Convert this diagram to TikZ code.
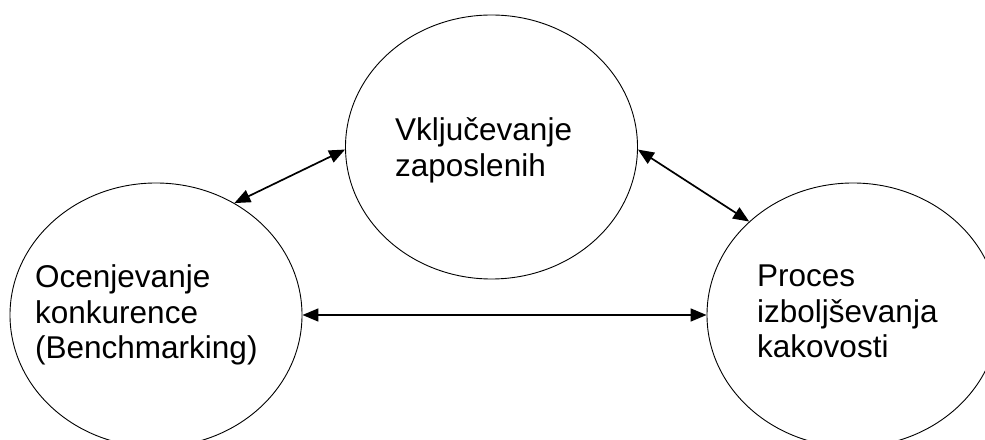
\documentclass[tikz,border=0pt]{standalone}
\usepackage{fontspec}
\setmainfont{Liberation Sans}
\usetikzlibrary{shapes.geometric,arrows.meta}
\begin{document}
\begin{tikzpicture}[x=1pt,y=1pt,
  bubble/.style={draw,ellipse,line width=0.9pt,minimum width=292pt,minimum height=264pt,inner sep=0pt},
  label/.style={align=left,inner sep=0pt,anchor=base west,font=\fontsize{31.5}{35.5}\selectfont},
  link/.style={line width=1.7pt,{Triangle[length=16pt,width=13pt]}-{Triangle[length=16pt,width=13pt]}}]
  \useasboundingbox (0,0) rectangle (985,439);
  % three circles of the quality model
  \node[bubble] (top)   at (491.5,292) {};
  \node[bubble] (left)  at (156,124) {};
  \node[bubble] (right) at (853,124) {};
  % their captions (anchored at the baseline of the last line)
  \node[label] (ttop)   at (395,262.5) {Vključevanje\\zaposlenih};
  \node[label] (tleft)  at (35,80)  {Ocenjevanje\\konkurence\\(Benchmarking)};
  \node[label] (tright) at (757,81) {Proces\\izboljševanja\\kakovosti};
  % two-way links
  \draw[link] (left.55) -- (top.181);
  \draw[link] (top.359) -- (right.138);
  \draw[link] (left.east) -- (right.west);
\end{tikzpicture}
\end{document}
